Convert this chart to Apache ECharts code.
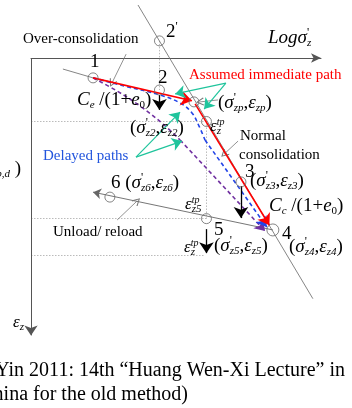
<!DOCTYPE html>
<html>
<head>
<meta charset="utf-8">
<script src="https://cdn.jsdelivr.net/npm/echarts@6/dist/echarts.min.js"></script>
<style>
  html, body { margin: 0; padding: 0; background: #fff; }
  #chart { width: 352px; height: 408px; }
</style>
</head>
<body>
<div id="chart"></div>
<script>
// Schematic consolidation paths in (log σ'z , εz) space; εz grows downward.

// state points: 1, 2', 2, zp, tp, 3, 4, 5, 6
const stateLogS   = [2.14, 4.43, 4.43, 5.62, 6.05, 7.24, 8.34, 6.05, 2.72];
const stateStrain = [0.72, -0.62, 1.16, 1.59, 2.30, 4.49, 6.23, 5.82, 5.04];

// strain axis, drawn downward with an arrow at its far end
const strainAxisSpan = [[0, 0], [0, 10.05]];

// reference lines
const normalConsolidationLine = [[3.69, -1.92], [9.72, 8.72]];
const overConsolidationLine   = [[1.10, 0.40], [2.14, 0.72]];
const unloadReloadLine        = [[8.34, 6.23], [2.14, 4.86]];

// assumed immediate path (two straight legs)
const immediatePath = [
  [[2.14, 0.72], [5.55, 1.55]],
  [[5.66, 1.66], [8.22, 6.06]]
];

// delayed paths: curved part, then straight run into point 4
const blueCurveLogS   = [2.14, 3.24, 4.45, 5.14, 5.55, 5.79, 6.00];
const blueCurveStrain = [0.72, 1.02, 1.34, 1.63, 1.99, 2.46, 2.97];
const blueTail        = [[6.00, 2.97], [8.13, 6.12]];

const purpleCurveLogS   = [2.14, 2.97, 3.76, 4.55, 5.14];
const purpleCurveStrain = [0.72, 1.20, 1.74, 2.39, 2.97];
const purpleTail        = [[5.14, 2.97], [8.07, 6.27]];

// annotation arrows
const greenArrows = [
  [[3.62, 3.59], [5.14, 1.96]],
  [[3.62, 3.59], [5.21, 3.01]],
  [[6.72, 0.91], [4.97, 1.30]],
  [[6.72, 0.91], [5.97, 1.85]]
];
const grayPointers = [
  [[3.28, -0.14], [2.79, 0.91]],
  [[2.97, 5.87], [3.66, 5.18]],
  [[7.14, 3.01], [6.66, 3.48]],
  [[6.45, 1.52], [5.83, 1.59]]
];
const strainDrops = [
  [[4.43, 1.34], [4.43, 1.88]],
  [[7.24, 4.64], [7.24, 5.80]],
  [[6.05, 6.20], [6.05, 7.07]]
];
const dottedGuides = [
  [[0, 2.30], [6.05, 2.30]],
  [[0, 5.82], [6.05, 5.82]],
  [[0, 7.14], [6.00, 7.14]],
  [[4.43, -0.62], [4.43, 1.16]],
  [[6.05, 2.30], [6.05, 5.82]]
];

const zip = (a, b) => a.map((v, i) => [v, b[i]]);

const SERIF = "'Liberation Serif', 'Times New Roman', serif";
const RICH = {
  m:  { fontFamily: SERIF, fontSize: 19, lineHeight: 22 },
  i:  { fontFamily: SERIF, fontSize: 19, lineHeight: 22, fontStyle: 'italic' },
  s:  { fontFamily: SERIF, fontSize: 11, lineHeight: 12, fontStyle: 'italic', verticalAlign: 'bottom' },
  sn: { fontFamily: SERIF, fontSize: 11, lineHeight: 12, verticalAlign: 'bottom' },
  p:  { fontFamily: SERIF, fontSize: 12, lineHeight: 12, verticalAlign: 'top', width: 0 },
  t:  { fontFamily: SERIF, fontSize: 10, lineHeight: 11, fontStyle: 'italic', verticalAlign: 'top', width: 0 }
};
const RICH_EPS = Object.assign({}, RICH, {
  i: { fontFamily: SERIF, fontSize: 17, lineHeight: 20, fontStyle: 'italic' }
});

function pair(sub) {
  return '{m|(}{i|σ}{p|\'}{s|' + sub + '}{m|,}{i|ε}{s|' + sub + '}{m|)}';
}
function label(x, y, text, extra) {
  return {
    type: 'text', x: x, y: y, silent: true, z: 20,
    style: Object.assign({
      text: text, fill: '#000', fontFamily: SERIF, fontSize: 15,
      verticalAlign: 'middle', rich: RICH
    }, extra || {})
  };
}

const chevron = 'path://M5,0 L10,9 L9,10 L5,2.5 L1,10 L0,9 Z';

function segSeries(list, color, width, type, symbol, symbolSize, z) {
  return {
    type: 'lines', coordinateSystem: 'cartesian2d', clip: false, silent: true,
    z: z, symbol: symbol, symbolSize: symbolSize,
    lineStyle: { color: color, width: width, type: type, opacity: 1, curveness: 0 },
    data: list.map(c => ({ coords: c }))
  };
}
function curveSeries(xs, ys, color) {
  return {
    type: 'line', data: zip(xs, ys), smooth: 0.4, showSymbol: false, clip: false,
    silent: true, z: 4, lineStyle: { color: color, width: 1.6, type: [4, 3] }
  };
}

const chart = echarts.init(document.getElementById('chart'), null, { renderer: 'canvas' });
chart.setOption({
  animation: false,
  backgroundColor: '#fff',
  grid: { left: 31, top: 58, width: 290, height: 276, containLabel: false },
  xAxis: {
    type: 'value', min: 0, max: 10, position: 'top',
    axisLine: { show: true, onZero: false, symbol: ['none', 'arrow'], symbolSize: [7, 10],
      lineStyle: { color: '#555', width: 1 } },
    axisTick: { show: false }, axisLabel: { show: false }, splitLine: { show: false }
  },
  yAxis: {
    type: 'value', min: 0, max: 10, inverse: true, position: 'left',
    axisLine: { show: false },
    axisTick: { show: false }, axisLabel: { show: false }, splitLine: { show: false }
  },
  series: [
    segSeries([strainAxisSpan], '#555', 1, 'solid', ['none', 'arrow'], [7, 10], 3),
    segSeries(dottedGuides, '#bbb', 1, [1.5, 1.5], 'none', 0, 1),
    segSeries([normalConsolidationLine, overConsolidationLine], '#777', 0.9, 'solid', 'none', 0, 2),
    segSeries([unloadReloadLine], '#666', 0.9, 'solid', ['none', 'arrow'], [6, 8], 2),
    segSeries(grayPointers, '#777', 0.8, 'solid', ['none', chevron], [6, 8], 2),
    curveSeries(purpleCurveLogS, purpleCurveStrain, '#7030a0'),
    segSeries([purpleTail], '#7030a0', 1.6, [4, 3], ['none', 'arrow'], [7, 10], 4),
    curveSeries(blueCurveLogS, blueCurveStrain, '#2244e8'),
    segSeries([blueTail], '#2244e8', 1.6, [4, 3], ['none', 'arrow'], [7, 10], 4),
    segSeries(immediatePath, '#ff0000', 1.6, 'solid', ['none', 'arrow'], [8, 11], 6),
    segSeries(greenArrows, '#1fc49c', 1.2, 'solid', ['none', 'arrow'], [7, 10], 7),
    segSeries(strainDrops, '#000', 1.3, 'solid', ['none', 'arrow'], [8, 11], 7),
    {
      type: 'scatter', data: zip(stateLogS, stateStrain), clip: false, silent: true, z: 8,
      symbol: 'circle',
      symbolSize: (v, p) => (p.dataIndex === 6 ? 12 : 10),
      itemStyle: { color: 'rgba(255,255,255,0)', borderColor: '#666', borderWidth: 1 }
    }
  ],
  graphic: [
    label(23, 39, 'Over-consolidation'),
    label(166, 32, '{m|2}{p|\'}'),
    label(90, 62, '{m|1}'),
    label(158, 78, '{m|2}'),
    label(77, 100, '{i|C}{s|e}{m| /(1+}{i|e}{sn|0}{m|)}'),
    label(130, 128, pair('z2')),
    label(268, 38, '{i|Log}{i|σ}{p|\'}{s|z}'),
    label(189, 75, 'Assumed immediate path', { fill: '#ff0000' }),
    label(218, 103, pair('zp')),
    label(210, 127, '{i|ε}{t|tp}{s|z}', { rich: RICH_EPS }),
    label(240, 136, 'Normal'),
    label(239, 155, 'consolidation'),
    label(245, 172, '{m|3}'),
    label(250, 181, pair('z3')),
    label(269, 206, '{i|C}{s|c}{m| /(1+}{i|e}{sn|0}{m|)}'),
    label(282, 234, '{m|4}'),
    label(289, 247, pair('z4')),
    label(214, 230, '{m|5}'),
    label(214, 246, pair('z5')),
    label(185, 205, '{i|ε}{t|tp}{s|z5}', { rich: RICH_EPS }),
    label(184, 248, '{i|ε}{t|tp}{s|z}', { rich: RICH_EPS }),
    label(111, 183, '{m|6 }' + pair('z6')),
    label(53, 232, 'Unload/ reload'),
    label(43, 156, 'Delayed paths', { fill: '#2255dd' }),
    label(13, 323, '{i|ε}{s|z}', { rich: RICH_EPS }),
    label(21, 169, '{m|(}{i|σ}{p|\'}{s|zp,d}{m|,}{i|ε}{s|zp,d}{m| )}', { align: 'right' }),
    label(345, 371, '(Yin 2011: 14th “Huang Wen-Xi Lecture” in', { fontSize: 20, align: 'right' }),
    label(188, 395, 'China for the old method)', { fontSize: 20, align: 'right' })
  ]
});
</script>
</body>
</html>
